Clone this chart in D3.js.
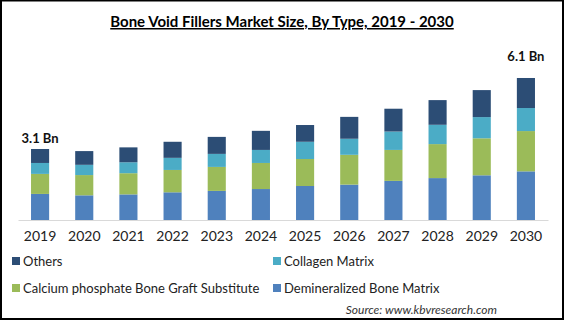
<!DOCTYPE html>
<html lang="en">
<head>
    <meta charset="UTF-8">
    <title>Bone Void Fillers Market Size, By Type, 2019 - 2030</title>
    <script src="https://d3js.org/d3.v7.min.js"></script>
    <style>
        body { margin: 0; background: #fff; }
        svg { display: block; font-family: Lato, "Open Sans", sans-serif; }
    </style>
</head>
<body>
    <svg></svg>
    <script>
        // Data (USD Bn)
        const years = ["2019", "2020", "2021", "2022", "2023", "2024", "2025", "2026", "2027", "2028", "2029", "2030"];
        const demineralized = [1.12, 1.06, 1.10, 1.19, 1.25, 1.33, 1.46, 1.52, 1.68, 1.80, 1.92, 2.09];
        const calcium = [0.86, 0.87, 0.91, 0.96, 1.03, 1.12, 1.16, 1.28, 1.33, 1.46, 1.59, 1.73];
        const collagen = [0.47, 0.44, 0.47, 0.52, 0.56, 0.56, 0.74, 0.69, 0.79, 0.83, 0.91, 0.99];
        const others = [0.60, 0.59, 0.64, 0.69, 0.73, 0.82, 0.72, 0.94, 0.98, 1.06, 1.16, 1.29];
        const seriesNames = ["Demineralized Bone Matrix", "Calcium phosphate Bone Graft Substitute", "Collagen Matrix", "Others"];
        const seriesColors = ["#4f81bd", "#9bbb59", "#4bacc6", "#2c4d75"];
        const endLabels = [{i: 0, text: "3.1 Bn", dy: -6}, {i: 11, text: "6.1 Bn", dy: -17}];

        const width = 565, height = 321;
        const svg = d3.select("svg").attr("width", width).attr("height", height);

        // frame
        svg.append("rect")
            .attr("x", 1).attr("y", 0.5)
            .attr("width", width - 3).attr("height", height - 2.5)
            .attr("fill", "none").attr("stroke", "#000").attr("stroke-width", 2);

        // title
        svg.append("text")
            .attr("x", 282).attr("y", 27)
            .attr("text-anchor", "middle")
            .attr("font-weight", "bold")
            .attr("font-size", 15)
            .attr("text-decoration", "underline")
            .attr("fill", "#000")
            .text("Bone Void Fillers Market Size, By Type, 2019 - 2030");

        const table = years.map((y, i) => ({
            year: y,
            "Demineralized Bone Matrix": demineralized[i],
            "Calcium phosphate Bone Graft Substitute": calcium[i],
            "Collagen Matrix": collagen[i],
            "Others": others[i]
        }));
        const stacked = d3.stack().keys(seriesNames)(table);

        const x = d3.scaleBand()
            .domain(years)
            .range([18, 548])
            .paddingInner(0.59)
            .paddingOuter(0.295);

        const y = d3.scaleLinear()
            .domain([0, 7])
            .range([220, 220 - 7 * 23.28]);

        const color = d3.scaleOrdinal().domain(seriesNames).range(seriesColors);

        // bars
        svg.append("g")
            .selectAll("g")
            .data(stacked)
            .enter()
            .append("g")
            .attr("fill", d => color(d.key))
            .selectAll("rect")
            .data(d => d)
            .enter()
            .append("rect")
            .attr("x", d => x(d.data.year))
            .attr("y", d => y(d[1]))
            .attr("width", x.bandwidth())
            .attr("height", d => y(d[0]) - y(d[1]));

        // x axis
        const xAxis = svg.append("g")
            .attr("transform", "translate(0,220)")
            .call(d3.axisBottom(x).tickSize(0).tickPadding(11));
        xAxis.select(".domain").attr("stroke", "#d9d9d9");
        xAxis.selectAll("text")
            .attr("font-size", 14)
            .attr("font-family", "Lato, sans-serif")
            .attr("fill", "#222");

        // total labels
        const totals = years.map((_, i) => demineralized[i] + calcium[i] + collagen[i] + others[i]);
        svg.append("g")
            .selectAll("text")
            .data(endLabels)
            .enter()
            .append("text")
            .attr("x", d => x(years[d.i]) + x.bandwidth() / 2)
            .attr("y", d => y(totals[d.i]) + d.dy)
            .attr("text-anchor", "middle")
            .attr("font-weight", "bold")
            .attr("font-size", 13)
            .attr("fill", "#111")
            .text(d => d.text);

        // legend
        const legendItems = [
            {name: "Others", col: 0, row: 0},
            {name: "Collagen Matrix", col: 1, row: 0},
            {name: "Calcium phosphate Bone Graft Substitute", col: 0, row: 1},
            {name: "Demineralized Bone Matrix", col: 1, row: 1}
        ];
        const legend = svg.append("g")
            .selectAll("g")
            .data(legendItems)
            .enter()
            .append("g")
            .attr("transform", d => `translate(${d.col ? 273 : 12}, ${d.row ? 288 : 261})`);
        legend.append("rect")
            .attr("x", 0).attr("y", -4)
            .attr("width", 8).attr("height", 8)
            .attr("fill", d => color(d.name));
        legend.append("text")
            .attr("x", 11).attr("y", 5)
            .attr("font-size", 13)
            .attr("fill", "#222")
            .text(d => d.name);

        // source
        svg.append("text")
            .attr("x", 497).attr("y", 314)
            .attr("text-anchor", "end")
            .attr("font-style", "italic")
            .attr("font-size", 12)
            .attr("fill", "#333")
            .text("Source: www.kbvresearch.com");
    </script>
</body>
</html>
